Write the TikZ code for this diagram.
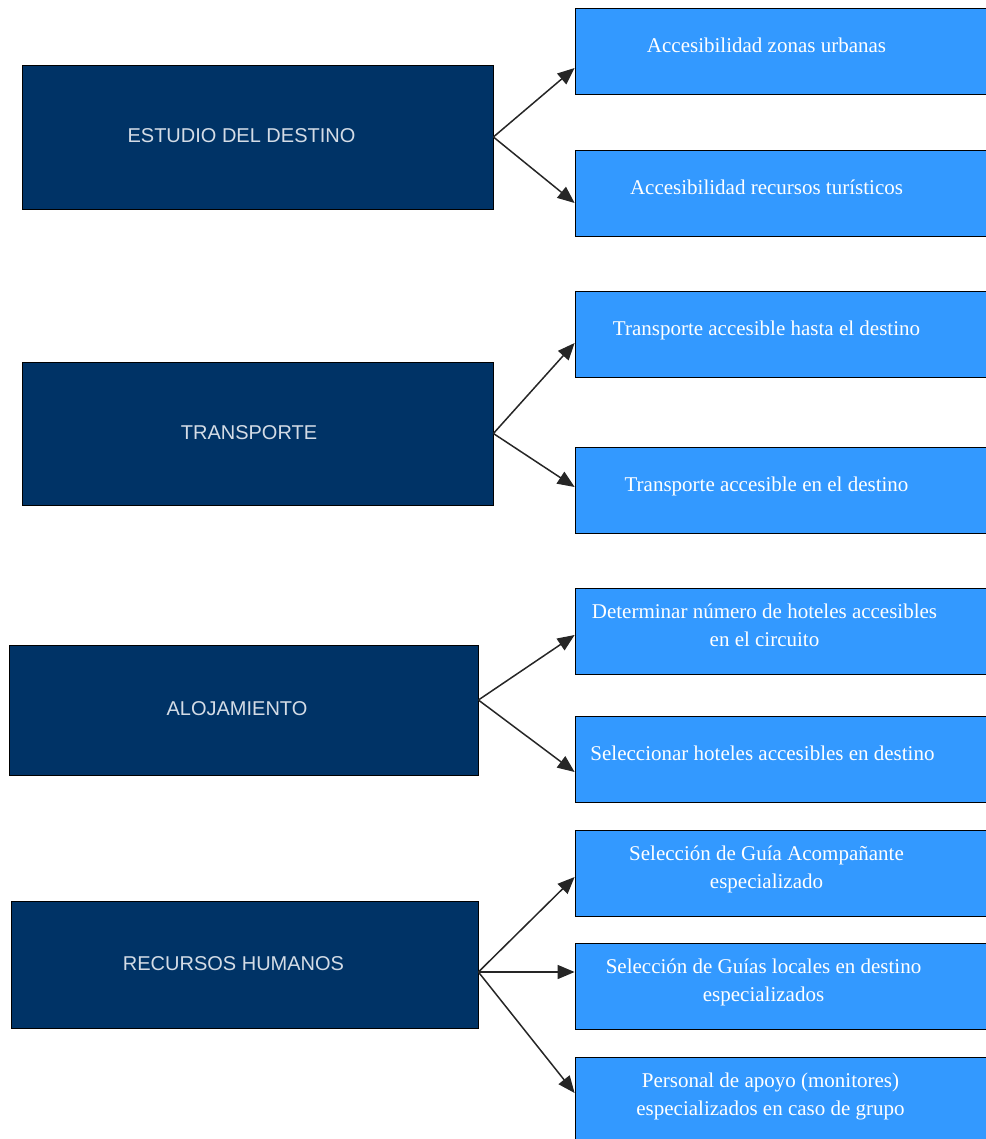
\documentclass[tikz,border=0pt]{standalone}
\usepackage{fontspec}
\setmainfont{Liberation Serif}
\setsansfont{Liberation Sans}
\usetikzlibrary{arrows.meta}

\definecolor{navy}{HTML}{003366}
\definecolor{celeste}{HTML}{3399FF}
\definecolor{grigio}{HTML}{D4DCE6}

\begin{document}
\begin{tikzpicture}[x=1pt, y=-1pt,
    lbox/.style={draw=black, line width=0.8pt, fill=navy, inner sep=0pt},
    ltext/.style={text=grigio, inner sep=0pt, text height=14.3pt, text depth=0pt,
      font=\sffamily\fontsize{20}{24}\selectfont},
    rbox/.style={draw=black, line width=0.8pt, fill=celeste, inner sep=0pt,
      minimum width=415pt, minimum height=86pt},
    rtext/.style={text=white, align=center, inner sep=0pt, text height=14.5pt, text depth=5pt,
      font=\rmfamily\fontsize{21}{28}\selectfont},
    freccia/.style={-{Triangle[length=17pt,width=14pt]}, line width=1.5pt, black!85}]
  %tikz  circuito turistico accesible
    \useasboundingbox (0,0) rectangle (985,1139);
    \node[lbox, minimum width=471pt, minimum height=144pt] (estudio) at (257.5,137) {};
    \node[lbox, minimum width=471pt, minimum height=143pt] (transporte) at (257.5,433.5) {};
    \node[lbox, minimum width=469pt, minimum height=130pt] (alojamiento) at (243.5,710) {};
    \node[lbox, minimum width=467pt, minimum height=127pt] (recursos) at (244.5,964.5) {};
    \node[ltext] (l1) at ([xshift=-16pt,yshift=1.5pt]estudio.center) {ESTUDIO DEL DESTINO};
    \node[ltext] (l2) at ([xshift=-8.5pt,yshift=1.5pt]transporte.center) {TRANSPORTE};
    \node[ltext] (l3) at ([xshift=-6.5pt,yshift=1.5pt]alojamiento.center) {ALOJAMIENTO};
    \node[ltext] (l4) at ([xshift=-11pt,yshift=1.5pt]recursos.center) {RECURSOS HUMANOS};
    \node[rbox] (r1) at (782.5,51) {};
    \node[rbox] (r2) at (782.5,193.5) {};
    \node[rbox] (r3) at (782.5,334.5) {};
    \node[rbox] (r4) at (782.5,490.5) {};
    \node[rbox] (r5) at (782.5,631.5) {};
    \node[rbox] (r6) at (782.5,759.5) {};
    \node[rbox] (r7) at (782.5,873) {};
    \node[rbox] (r8) at (782.5,986) {};
    \node[rbox] (r9) at (782.5,1100) {};
    \node[rtext] (t1) at ([xshift=-16pt,yshift=3.5pt]r1.center) {Accesibilidad zonas urbanas};
    \node[rtext] (t2) at ([xshift=-16pt,yshift=3.5pt]r2.center) {Accesibilidad recursos turísticos};
    \node[rtext] (t3) at ([xshift=-16pt,yshift=3.5pt]r3.center) {Transporte accesible hasta el destino};
    \node[rtext] (t4) at ([xshift=-16pt,yshift=3.5pt]r4.center) {Transporte accesible en el destino};
    \node[rtext] (t5) at ([xshift=-18pt,yshift=-10.5pt]r5.center) {Determinar número de hoteles accesibles\\en el circuito};
    \node[rtext] (t6) at ([xshift=-20pt,yshift=3.5pt]r6.center) {Seleccionar hoteles accesibles en destino};
    \node[rtext] (t7) at ([xshift=-16pt,yshift=-10.5pt]r7.center) {Selección de Guía Acompañante\\especializado};
    \node[rtext] (t8) at ([xshift=-19pt,yshift=-10.5pt]r8.center) {Selección de Guías locales en destino\\especializados};
    \node[rtext] (t9) at ([xshift=-12pt,yshift=-10.5pt]r9.center) {Personal de apoyo (monitores)\\especializados en caso de grupo};
    \coordinate (f3) at ([yshift=10pt]alojamiento.east);
    \coordinate (f4) at ([yshift=-7.5pt]recursos.east);
    \draw[freccia] (estudio.east) -- ([yshift=-17pt]r1.west);
    \draw[freccia] (estudio.east) -- ([yshift=-9.5pt]r2.west);
    \draw[freccia] (transporte.east) -- ([yshift=-8.5pt]r3.west);
    \draw[freccia] (transporte.east) -- ([yshift=3.5pt]r4.west);
    \draw[freccia] (f3) -- ([yshift=-3.5pt]r5.west);
    \draw[freccia] (f3) -- ([yshift=-12.5pt]r6.west);
    \draw[freccia] (f4) -- ([yshift=-4pt]r7.west);
    \draw[freccia] (f4) -- (r8.west |- f4);
    \draw[freccia] (f4) -- ([yshift=7pt]r9.west);
  \end{tikzpicture}
\end{document}
